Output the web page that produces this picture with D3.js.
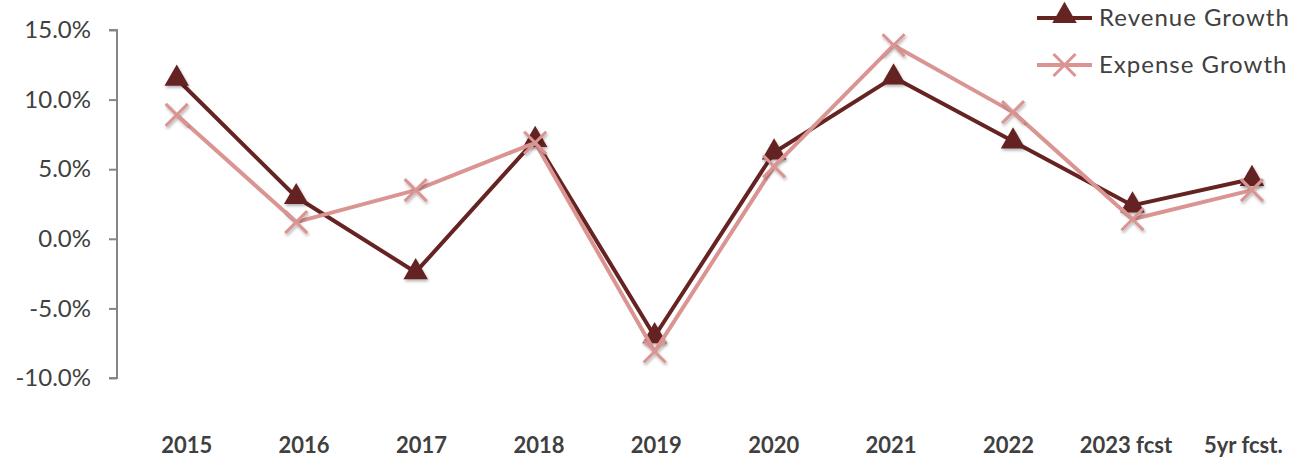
<!DOCTYPE html>
<html>
<head>
<meta charset="utf-8">
<script src="https://cdn.jsdelivr.net/npm/d3@7"></script>
<style>
  body { margin: 0; background: #fff; }
  svg { display: block; font-family: Lato, "Open Sans", sans-serif; }
</style>
</head>
<body>
<svg id="chart"></svg>
<script>
const categories = ['2015', '2016', '2017', '2018', '2019', '2020', '2021', '2022', '2023 fcst', '5yr fcst.'];
const revenueGrowth = [11.5, 3.0, -2.4, 7.1, -7.0, 6.2, 11.6, 7.0, 2.4, 4.3];
const expenseGrowth = [8.9, 1.2, 3.5, 6.9, -8.1, 5.2, 13.9, 9.1, 1.4, 3.5];
const yTicks = [15, 10, 5, 0, -5, -10];

const width = 1304, height = 462;
const axisX = 117;

const svg = d3.select('#chart')
    .attr('width', width)
    .attr('height', height);

const defs = svg.append('defs');
const shadow = defs.append('filter')
    .attr('id', 'shadow')
    .attr('x', '-50%').attr('y', '-50%')
    .attr('width', '200%').attr('height', '200%');
shadow.append('feDropShadow')
    .attr('dx', 1).attr('dy', 2)
    .attr('stdDeviation', 1.5)
    .attr('flood-color', '#000')
    .attr('flood-opacity', 0.3);

// plot positions
const x = d3.scaleBand()
    .domain(categories)
    .range([axisX, axisX + 119.47 * categories.length]);

// category labels sit on a slightly narrower band than the points
const xLabel = d3.scaleBand()
    .domain(categories)
    .range([128, 1302]);

const y = d3.scaleLinear()
    .domain([-10, 15])
    .range([378, 30]);

const cx = d => x(d) + x.bandwidth() / 2;

// y axis
const yAxis = d3.axisLeft(y)
    .tickValues(yTicks)
    .tickSize(8)
    .tickPadding(18)
    .tickFormat(d => d3.format('.1f')(d).replace('\u2212', '-') + '%');

const yAxisG = svg.append('g')
    .attr('transform', `translate(${axisX},0)`)
    .call(yAxis);
yAxisG.select('.domain')
    .attr('d', `M-8,${y(15)}H0V${y(-10)}H-8`)
    .attr('stroke', '#868686')
    .attr('stroke-width', 2);
yAxisG.selectAll('.tick line')
    .attr('stroke', '#868686')
    .attr('stroke-width', 2);
yAxisG.selectAll('.tick text')
    .attr('fill', '#404040')
    .attr('font-size', 24)
    .attr('font-family', 'Lato, sans-serif');

// x labels
svg.append('g')
    .selectAll('text')
    .data(categories)
    .join('text')
    .attr('x', d => xLabel(d) + xLabel.bandwidth() / 2)
    .attr('y', 453)
    .attr('text-anchor', 'middle')
    .attr('font-size', 22)
    .attr('font-weight', 'bold')
    .attr('fill', '#404040')
    .text(d => d);

const revColor = '#652322';
const expColor = '#da9593';

const line = d3.line()
    .x(d => cx(d.cat))
    .y(d => y(d.v));

const revData = categories.map((c, i) => ({cat: c, v: revenueGrowth[i]}));
const expData = categories.map((c, i) => ({cat: c, v: expenseGrowth[i]}));

const triangle = d3.symbol().type(d3.symbolTriangle).size(260);

// revenue line + markers
svg.append('path')
    .datum(revData)
    .attr('fill', 'none')
    .attr('stroke', revColor)
    .attr('stroke-width', 4)
    .attr('stroke-linejoin', 'round')
    .attr('d', line);

svg.append('g')
    .selectAll('path')
    .data(revData)
    .join('path')
    .attr('d', triangle)
    .attr('transform', d => `translate(${cx(d.cat)},${y(d.v)})`)
    .attr('fill', revColor)
    .attr('filter', 'url(#shadow)');

// expense line + markers
svg.append('path')
    .datum(expData)
    .attr('fill', 'none')
    .attr('stroke', expColor)
    .attr('stroke-width', 4)
    .attr('stroke-linejoin', 'round')
    .attr('d', line);

const crossPath = 'M-11,-11L11,11M-11,11L11,-11';
svg.append('g')
    .selectAll('path')
    .data(expData)
    .join('path')
    .attr('d', crossPath)
    .attr('transform', d => `translate(${cx(d.cat)},${y(d.v)})`)
    .attr('stroke', expColor)
    .attr('stroke-width', 3)
    .attr('fill', 'none')
    .attr('filter', 'url(#shadow)');

// legend
const legendItems = [
    {name: 'Revenue Growth', color: revColor, marker: 'triangle'},
    {name: 'Expense Growth', color: expColor, marker: 'cross'}
];
const legend = svg.append('g');
const rows = legend.selectAll('g')
    .data(legendItems)
    .join('g')
    .attr('transform', (d, i) => `translate(1037,${18 + i * 47})`);
rows.append('line')
    .attr('x1', 0).attr('x2', 55)
    .attr('stroke', d => d.color)
    .attr('stroke-width', 4);
rows.append('path')
    .attr('d', d => d.marker === 'triangle' ? triangle() : crossPath)
    .attr('transform', d => d.marker === 'triangle' ? 'translate(27.5,-2)' : 'translate(27.5,0)')
    .attr('fill', d => d.marker === 'triangle' ? d.color : 'none')
    .attr('stroke', d => d.marker === 'triangle' ? 'none' : d.color)
    .attr('stroke-width', 3);
rows.append('text')
    .attr('x', 62)
    .attr('dy', '0.35em')
    .attr('font-size', 24)
    .attr('letter-spacing', 1)
    .attr('fill', '#404040')
    .text(d => d.name);
</script>
</body>
</html>
